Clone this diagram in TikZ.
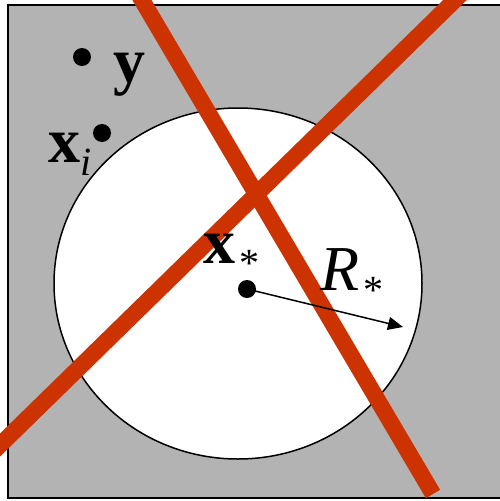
\documentclass[tikz,border=0pt]{standalone}
\usepackage{fontspec}
\setmainfont{Liberation Serif}
\usetikzlibrary{arrows.meta, positioning}
\definecolor{bggray}{HTML}{B3B3B3}
\definecolor{cutred}{HTML}{CC3300}
\newcommand{\lowsub}[1]{\raisebox{-13pt}{\fontsize{40}{40}\selectfont #1}}

\begin{document}
\begin{tikzpicture}[x=1pt, y=-1pt,
  dot/.style={circle, fill=black, inner sep=0pt, minimum size=18pt},
  lbl/.style={anchor=base west, inner sep=0pt, font=\fontsize{64}{64}\selectfont},
  cut/.style={line width=16.5pt, color=cutred},
  arr/.style={-{Triangle[length=15pt, width=13pt]}, line width=1.5pt},
]
\useasboundingbox (0,0) rectangle (500,501);
\draw[line width=1.5pt, fill=bggray] (8,5) rectangle (520,498);
\draw[line width=1.5pt, fill=white] (238,283.5) ellipse [x radius=184, y radius=175.5];
% the two cutting lines
\draw[cut] (136,-10) -- (433,494);
\draw[cut] (-20,464.6) -- (475,-19.6);
% points and labels
\node[dot] (y) at (82,57) {};
\node[lbl] (ylbl) at (113,82) {\textbf{y}};
\node[dot] (xi) at (102,133) {};
\node[lbl] (xilbl) at (48,162) {\textbf{x}\lowsub{\textit{i}}};
\node[dot] (xs) at (247,289) {};
\node[lbl] (xslbl) at (203,263) {\textbf{x}\kern4pt\lowsub{*}};
\node[lbl] (rlbl) at (320,290) {\textit{R}\kern4pt\lowsub{*}};
\coordinate (rim) at (403,327);
\draw[arr] (xs.center) -- (rim);
\end{tikzpicture}
\end{document}
